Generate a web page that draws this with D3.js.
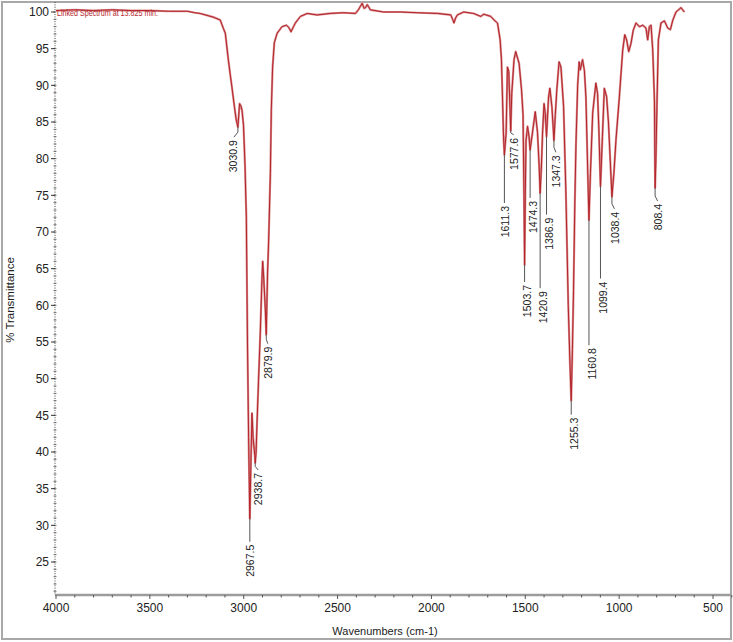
<!DOCTYPE html>
<html>
<head>
<meta charset="utf-8" />
<title>IR Spectrum</title>
<script src="https://d3js.org/d3.v7.min.js"></script>
<style>
html, body { margin: 0; padding: 0; background: #fff; }
svg { display: block; font-family: "Liberation Sans", Arial, sans-serif; }
.peak-label { font-size: 10.5px; fill: #222; }
.tick-label { font-size: 12px; fill: #222; font-family: "Liberation Sans Narrow", "Liberation Sans", Arial, sans-serif; }
</style>
</head>
<body>
<script>
// spectrum: wavenumber (cm-1) and % transmittance
let wavenumbers = [4000, 3900, 3800, 3700, 3600, 3500, 3400, 3300, 3260, 3232, 3190, 3162, 3125, 3109, 3098, 3082, 3072, 3063, 3049, 3040,
    3030.9, 3022, 3015, 3009, 3001, 2993, 2986, 2980, 2974, 2967.5, 2962, 2956, 2950, 2941, 2938.7, 2934, 2929, 2921, 2912, 2903,
    2899, 2894, 2885, 2879.9, 2873, 2867, 2858, 2853, 2846, 2837, 2822, 2796, 2773, 2760, 2748, 2735, 2725, 2698, 2662, 2609,
    2538, 2469, 2405, 2389, 2369, 2359, 2351, 2342, 2325, 2255, 2164, 2075, 1968, 1897, 1887, 1880, 1871, 1862, 1828, 1775,
    1737, 1721, 1684, 1666, 1648, 1634, 1627, 1621, 1616, 1611.3, 1602, 1595, 1588, 1583, 1577.6, 1572, 1560, 1551, 1533, 1520,
    1512, 1507, 1503.7, 1500, 1496, 1488, 1480, 1474.3, 1462, 1447, 1435, 1426, 1420.9, 1414, 1408, 1400, 1393, 1386.9, 1376, 1369,
    1358, 1347.3, 1340, 1332, 1320, 1310, 1296, 1284, 1271, 1262, 1255.3, 1249, 1243, 1236, 1230, 1221, 1213, 1207, 1195, 1185,
    1177, 1169, 1160.8, 1153, 1141, 1124, 1115, 1108, 1099.4, 1089, 1079, 1067, 1057, 1046, 1038.4, 1028, 1017, 999, 981, 970,
    960, 949, 937, 925, 910, 892, 874, 857, 848, 839, 830, 821, 812, 808.4, 804, 798, 791, 777, 759, 741,
    727, 714, 697, 670, 662, 652];
let transmittance = [100.2, 100.3, 100.2, 100.3, 100.2, 100.2, 100.1, 100.1, 99.9, 99.8, 99.5, 99.3, 98.9, 97.8, 97.1, 93.5, 91.5, 89.8, 87, 85.3,
    84.3, 87.5, 87.2, 86.6, 84.5, 79, 72, 55, 42, 30.9, 38, 45.3, 42, 39.5, 38.5, 40, 44, 49.8, 56, 63.5,
    66, 64, 59.5, 56, 64.4, 68.9, 78, 86.6, 92.5, 95.8, 97.1, 98, 98.2, 97.9, 97.3, 98, 98.5, 99.4, 99.8, 99.6,
    99.8, 99.9, 99.8, 100.3, 101.2, 100.5, 100.6, 101, 100.3, 100, 100, 99.9, 99.8, 99.6, 99, 98.5, 99.2, 99.6, 100, 99.8,
    99.4, 99.7, 99.4, 98.9, 98.5, 96.2, 93.5, 88, 83, 80.5, 83.5, 92.5, 91.9, 88, 83.8, 88.9, 93.5, 94.6, 93, 89.4,
    86, 75, 65.5, 75, 82.5, 84.4, 83, 81.2, 83.5, 86.4, 83.6, 78.9, 75.3, 79, 83.5, 87.5, 86, 83, 88.4, 89.6,
    87, 82.5, 86, 89.4, 93.2, 92.5, 87.1, 75.7, 60, 52, 47, 54, 62, 74, 82, 90, 93.2, 92.1, 93.5, 92,
    88.4, 80, 71.6, 78, 86.2, 90.3, 88.9, 84, 76.2, 83, 89.6, 88.5, 85, 79, 74.8, 78, 82.5, 88.4, 94.8, 96.9,
    96.2, 94.6, 95.7, 97.5, 98.5, 98, 98.2, 97.8, 96.2, 98, 98.2, 94.8, 88, 76, 80, 88, 96.2, 98.5, 98.8, 97.8,
    97.6, 98.9, 100, 100.6, 100.3, 100];

let peakLabels = [3030.9, 2967.5, 2938.7, 2879.9, 1611.3, 1577.6, 1503.7, 1474.3, 1420.9, 1386.9,
    1347.3, 1255.3, 1160.8, 1099.4, 1038.4, 808.4];

let xTicks = [4000, 3500, 3000, 2500, 2000, 1500, 1000, 500];
let yTicks = [25, 30, 35, 40, 45, 50, 55, 60, 65, 70, 75, 80, 85, 90, 95, 100];

let caption = 'Linked Spectrum at 13.825 min.';

let width = 733, height = 642;
let svg = d3.select('body').append('svg').attr('width', width).attr('height', height);

let x = d3.scaleLinear().domain([4000, 500]).range([56, 713]);
let y = d3.scaleLinear().domain([100, 25]).range([12, 562]);
let plotTop = 2, plotBottom = 595, plotLeft = 55, plotRight = 731;

// frame
svg.append('rect').attr('x', 2).attr('y', 2).attr('width', 729).attr('height', 637)
    .attr('fill', 'none').attr('stroke', '#a8a8a8').attr('stroke-width', 2);

svg.append('clipPath').attr('id', 'plot-clip').append('rect')
    .attr('x', plotLeft).attr('y', plotTop).attr('width', plotRight - plotLeft).attr('height', plotBottom - plotTop);

// y axis: dotted line, ticks every 1 %, labels every 5 %
svg.append('line').attr('x1', plotLeft).attr('x2', plotLeft).attr('y1', plotTop).attr('y2', plotBottom)
    .attr('stroke', '#444').attr('stroke-width', 1).attr('stroke-dasharray', '1,1.4');
let yMinor = d3.range(21, 101);
svg.append('g').selectAll('line').data(yMinor).enter().append('line')
    .attr('x1', plotLeft - 1.5).attr('x2', plotLeft + 1.5)
    .attr('y1', d => y(d)).attr('y2', d => y(d))
    .attr('stroke', '#555').attr('stroke-width', 0.8);
svg.append('g').selectAll('line').data(yTicks).enter().append('line')
    .attr('x1', plotLeft - 4).attr('x2', plotLeft)
    .attr('y1', d => y(d)).attr('y2', d => y(d))
    .attr('stroke', '#333').attr('stroke-width', 1);
svg.append('g').selectAll('text').data(yTicks).enter().append('text')
    .attr('class', 'tick-label')
    .attr('x', plotLeft - 6).attr('y', d => y(d)).attr('dy', '0.36em')
    .attr('text-anchor', 'end').text(d => d);

// x axis: grey double line, minor ticks each 100 cm-1
svg.append('line').attr('x1', plotLeft).attr('x2', plotRight).attr('y1', plotBottom).attr('y2', plotBottom)
    .attr('stroke', '#9c9c9c').attr('stroke-width', 2.5);
let xMinor = d3.range(4000, 399, -100);
svg.append('g').selectAll('line').data(xMinor).enter().append('line')
    .attr('x1', d => x(d)).attr('x2', d => x(d))
    .attr('y1', plotBottom).attr('y2', d => d % 500 === 0 ? plotBottom + 4 : plotBottom + 2.5)
    .attr('stroke', '#555').attr('stroke-width', 1);
svg.append('g').selectAll('text').data(xTicks).enter().append('text')
    .attr('class', 'tick-label')
    .attr('x', d => x(d)).attr('y', plotBottom + 17)
    .attr('text-anchor', 'middle').text(d => d);

svg.append('text').attr('x', 385).attr('y', 635).attr('text-anchor', 'middle')
    .attr('font-size', 11).attr('fill', '#222').text('Wavenumbers (cm-1)');
svg.append('text').attr('transform', 'translate(14,300) rotate(-90)').attr('text-anchor', 'middle')
    .attr('font-size', 11.5).attr('fill', '#222').text('% Transmittance');

// spectrum: soft halo under a thin dark red core, like the scanned trace
let points = wavenumbers.map((w, i) => [w, transmittance[i]]);
let line = d3.line().x(d => x(d[0])).y(d => y(d[1]));
svg.append('path').datum(points).attr('clip-path', 'url(#plot-clip)')
    .attr('d', line).attr('fill', 'none')
    .attr('stroke', '#d98e90').attr('stroke-width', 2.2).attr('stroke-linejoin', 'round');
svg.append('path').datum(points).attr('clip-path', 'url(#plot-clip)')
    .attr('d', line).attr('fill', 'none')
    .attr('stroke', '#b3242a').attr('stroke-width', 1).attr('stroke-linejoin', 'round');

svg.append('text').attr('x', 57).attr('y', 15.5).attr('font-size', 8.5)
    .attr('textLength', 101).attr('lengthAdjust', 'spacingAndGlyphs')
    .attr('fill', '#b3282d').text(caption);

// peak annotations: leader length below the minimum, kink offset of the leader, text offset
let labelLayout = [
    {drop: 10, lineDx: -4, textDx: -5}, {drop: 23, lineDx: 0, textDx: 0}, {drop: 7, lineDx: 3, textDx: 3.5},
    {drop: 9, lineDx: 1.5, textDx: 2}, {drop: 48, lineDx: 0, textDx: 1}, {drop: 4, lineDx: 3, textDx: 3.5},
    {drop: 17, lineDx: 0, textDx: 3}, {drop: 48, lineDx: 0, textDx: 3}, {drop: 95, lineDx: 0, textDx: 3},
    {drop: 78, lineDx: 0, textDx: 3}, {drop: 12, lineDx: 2, textDx: 2.5}, {drop: 14, lineDx: 0, textDx: 3},
    {drop: 125, lineDx: 0, textDx: 3}, {drop: 92, lineDx: 0, textDx: 3}, {drop: 12, lineDx: 2.5, textDx: 3.5},
    {drop: 13, lineDx: 2.5, textDx: 3.5}
];

let peaks = peakLabels.map((w, i) => {
    let t = transmittance[wavenumbers.indexOf(w)];
    return {w: w, t: t, layout: labelLayout[i]};
});

let annot = svg.append('g').selectAll('g').data(peaks).enter().append('g');
annot.append('polyline')
    .attr('points', d => {
        let px = x(d.w), py = y(d.t), end = py + d.layout.drop;
        let kink = d.layout.lineDx !== 0 ? Math.min(5, d.layout.drop / 2) : 0;
        return [[px, py], [px, end - kink], [px + d.layout.lineDx, end]].map(p => p.join(',')).join(' ');
    })
    .attr('fill', 'none').attr('stroke', '#555').attr('stroke-width', 1);
annot.append('text').attr('class', 'peak-label')
    .attr('transform', d => 'translate(' + (x(d.w) + d.layout.textDx) + ',' + (y(d.t) + d.layout.drop + 3) + ') rotate(-90)')
    .attr('text-anchor', 'end').attr('dy', '0.35em')
    .text(d => d.w.toFixed(1));
</script>
</body>
</html>
